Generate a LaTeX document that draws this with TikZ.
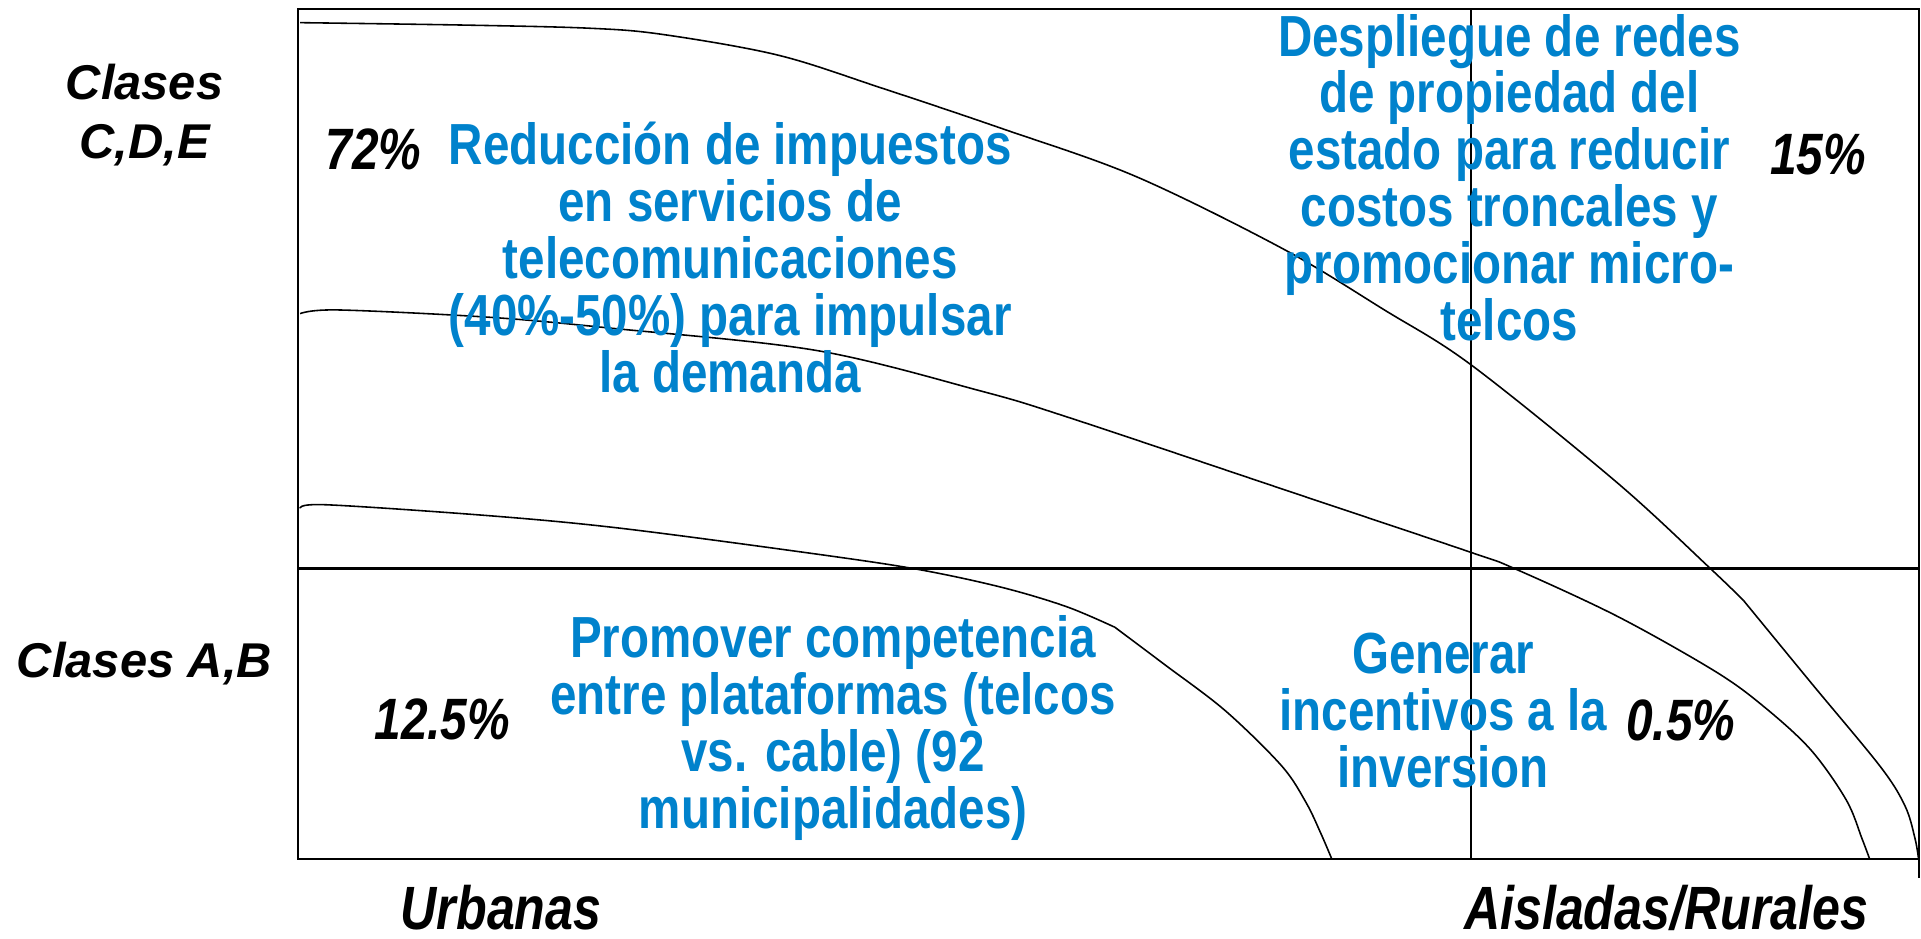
\documentclass[tikz,border=0pt]{standalone}
\usepackage{fontspec}
\setmainfont{Liberation Sans}
\newfontfamily\narrowfont[FakeStretch=0.82]{Liberation Sans}
\definecolor{blu}{RGB}{0,130,204}
\tikzset{
  bluetext/.style={text=blu, font=\narrowfont\bfseries\fontsize{16.5}{16.2}\selectfont, align=center, inner sep=0pt},
  pct/.style={font=\narrowfont\bfseries\itshape\fontsize{16.6}{16.2}\selectfont, inner sep=0pt},
  axislbl/.style={font=\narrowfont\bfseries\itshape\fontsize{17.4}{18}\selectfont, inner sep=0pt, anchor=base},
  cls/.style={font=\bfseries\itshape\fontsize{13.9}{16.7}\selectfont, align=center, inner sep=0pt},
  frameline/.style={line width=0.6pt},
  curveline/.style={line width=0.45pt}
}
\begin{document}
\begin{tikzpicture}[x=0.012251cm,y=-0.012251cm]
\useasboundingbox (0,0) rectangle (1568,766);
% frame and dividers
\draw[frameline] (243,7) rectangle (1566,701);
\draw[frameline] (1566,701) -- (1566,717);
\draw[frameline] (1201,7) -- (1201,701);
\draw[frameline] (243,464) -- (1566,464);
% curve A (top)
\draw[curveline] plot[smooth, tension=0.55] coordinates {(245,18.5) (380,20.5) (480,23) (540,28) (635,45) (720,72) (818,105) (927,144) (1047,203) (1130,253) (1201,298) (1320,394) (1396,464) (1423,490)};
\draw[curveline] plot[smooth, tension=0.55] coordinates {(1423,490) (1478,557) (1535,626) (1555,658) (1563,684) (1566,701)};
% curve B (middle)
\draw[curveline] plot[smooth, tension=0.55] coordinates {(245,256) (276,253) (400,259) (500,268) (666,286) (800,319) (873,341) (1061,404) (1201,451) (1236,464) (1320,503) (1400,548) (1440,577) (1478,612) (1507,653) (1520,685) (1526,701)};
% curve C (bottom)
\draw[curveline] plot[smooth, tension=0.55] coordinates {(245,415) (266,412) (400,421) (505,431) (650,450) (745,464) (816,479) (870,495) (910,512)};
\draw[curveline] plot[smooth, tension=0.55] coordinates {(910,512) (950,542) (1000,580) (1046,625) (1066,655) (1078,680) (1087,701)};
% left labels
\node[cls] (cde) at (118,94) {Clases\\C,D,E};
\node[cls] (ab) at (118,542) {Clases A,B};
% percentages
\node[pct] (p72) at (305,122) {72\%};
\node[pct] (p15) at (1484,126) {15\%};
\node[pct] (p125) at (361,587) {12.5\%};
\node[pct] (p05) at (1372,588) {0.5\%};
% blue texts
\node[bluetext] (reduc) at (596,210) {Reducción de impuestos\\en servicios de\\telecomunicaciones\\(40\%-50\%) para impulsar\\la demanda};
\node[bluetext] (despl) at (1232,145) {Despliegue de redes\\de propiedad del\\estado para reducir\\costos troncales y\\promocionar micro-\\telcos};
\node[bluetext] (promo) at (680,594) {Promover competencia\\entre plataformas (telcos\\vs. cable) (92\\municipalidades)};
\node[bluetext] (gener) at (1178,580) {Generar\\incentivos a la\\inversion};
% axis labels
\node[axislbl] (urb) at (409,759) {Urbanas};
\node[axislbl] (rur) at (1360,759) {Aisladas/Rurales};
\end{tikzpicture}
\end{document}
